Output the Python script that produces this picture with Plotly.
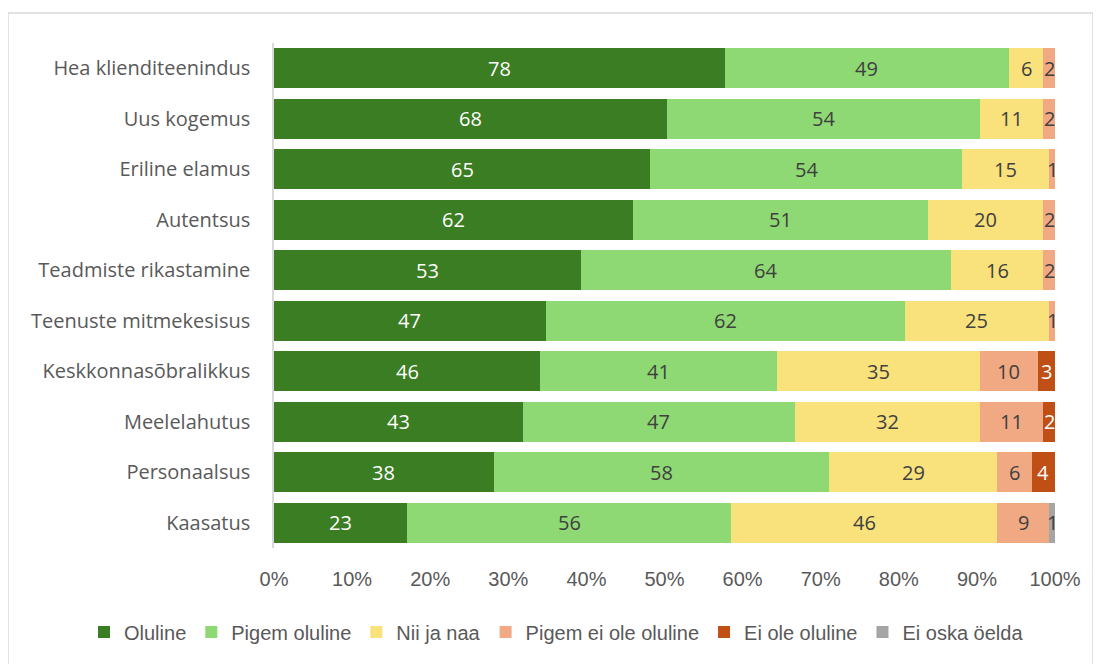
import plotly.graph_objects as go

categories = ["Hea klienditeenindus", "Uus kogemus", "Eriline elamus", "Autentsus",
              "Teadmiste rikastamine", "Teenuste mitmekesisus", "Keskkonnasõbralikkus",
              "Meelelahutus", "Personaalsus", "Kaasatus"]
oluline = [78, 68, 65, 62, 53, 47, 46, 43, 38, 23]
pigem_oluline = [49, 54, 54, 51, 64, 62, 41, 47, 58, 56]
nii_ja_naa = [6, 11, 15, 20, 16, 25, 35, 32, 29, 46]
pigem_ei_ole = [2, 2, 1, 2, 2, 1, 10, 11, 6, 9]
ei_ole = [0, 0, 0, 0, 0, 0, 3, 2, 4, 0]
ei_oska = [0, 0, 0, 0, 0, 0, 0, 0, 0, 1]
tick_labels = ["0%", "10%", "20%", "30%", "40%", "50%", "60%", "70%", "80%", "90%", "100%"]

series = [
    ("Oluline", oluline, "#3A7D22", "white"),
    ("Pigem oluline", pigem_oluline, "#8ED973", "#404040"),
    ("Nii ja naa", nii_ja_naa, "#F9E17B", "#404040"),
    ("Pigem ei ole oluline", pigem_ei_ole, "#F1A983", "#404040"),
    ("Ei ole oluline", ei_ole, "#C04F15", "white"),
    ("Ei oska öelda", ei_oska, "#A5A5A5", "#404040"),
]

totals = [sum(s[1][i] for s in series) for i in range(len(categories))]

fig = go.Figure()
cum = [0.0] * len(categories)
annotations = []
for name, vals, color, tcolor in series:
    pct = [v / t * 100 for v, t in zip(vals, totals)]
    fig.add_trace(go.Bar(
        y=categories, x=pct, name=name, orientation="h",
        marker=dict(color=color, line=dict(width=0)),
        hoverinfo="skip",
    ))
    for i, (v, p) in enumerate(zip(vals, pct)):
        if v > 0:
            annotations.append(dict(
                x=cum[i] + p / 2, y=categories[i], xref="x", yref="y",
                text=str(v), showarrow=False, xanchor="center", yanchor="middle",
                font=dict(color=tcolor, size=20, family="Open Sans, Liberation Sans"),
            ))
        cum[i] += p

# page body has an 8px default margin -> compensate
OFF = 8
W, H = 1101 - OFF, 664 - OFF
L, R, T, B = 274 - OFF, 1055 - OFF, 43 - OFF, 548 - OFF
pw, ph = R - L, B - T

fig.update_layout(
    width=W, height=H,
    barmode="stack", bargap=0.21,
    margin=dict(l=L, r=W - R, t=T, b=H - B, autoexpand=False),
    plot_bgcolor="white", paper_bgcolor="white",
    font=dict(family="Liberation Sans, Arial", color="#595959", size=20),
    xaxis=dict(range=[0, 100], tickvals=list(range(0, 101, 10)), ticktext=tick_labels,
               showgrid=False, zeroline=False, showline=False, ticks="", automargin=False,
               tickfont=dict(size=20, color="#595959"), ticklabelstandoff=17),
    yaxis=dict(autorange="reversed", showgrid=False, zeroline=False, automargin=False,
               showline=True, linecolor="#D9D9D9", linewidth=1.5, ticks="",
               tickfont=dict(size=20, color="#595959", family="Open Sans, Liberation Sans"),
               ticklabelstandoff=18),
    legend=dict(orientation="h", xref="paper", yref="paper",
                x=(84 - OFF - L) / pw, xanchor="left",
                y=(B - (632 - OFF)) / ph, yanchor="middle",
                font=dict(size=20, color="#595959"), traceorder="normal",
                itemwidth=30, tracegroupgap=0),
    annotations=annotations,
    showlegend=True,
)

fig.add_shape(type="rect", xref="paper", yref="paper",
              x0=(8 - OFF - L) / pw, x1=(1093 - OFF - L) / pw,
              y0=(B - (680 - OFF)) / ph, y1=(B - (13 - OFF)) / ph,
              line=dict(color="#D9D9D9", width=1.5), fillcolor="rgba(0,0,0,0)", layer="below")

fig.write_html("out.html")
